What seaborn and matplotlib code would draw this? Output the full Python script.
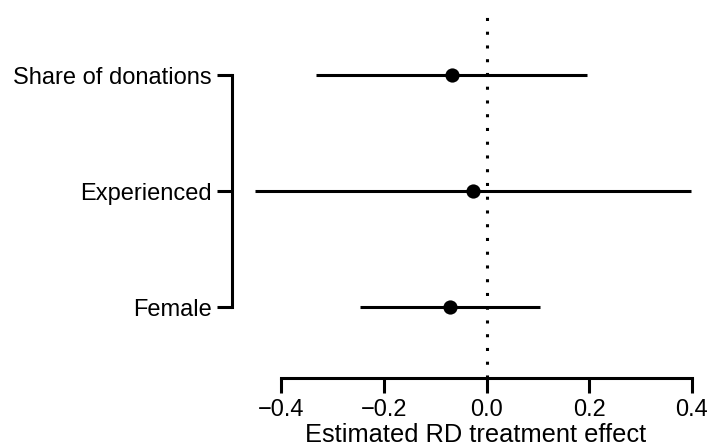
import numpy as np
import matplotlib
matplotlib.use("Agg")
import matplotlib.pyplot as plt
import seaborn as sns

# --- data ---
labels = ["Female", "Experienced", "Share of donations"]
estimate = [-0.071, -0.027, -0.068]
ci_low = [-0.246, -0.452, -0.332]
ci_high = [0.104, 0.398, 0.195]
x_ticks = [-0.4, -0.2, 0.0, 0.2, 0.4]
x_ticklabels = ["\u22120.4", "\u22120.2", "0.0", "0.2", "0.4"]

sns.set_style("ticks")
plt.rcParams['font.family'] = ['Liberation Sans', 'DejaVu Sans']
plt.rcParams['text.color'] = 'black'
plt.rcParams['axes.labelcolor'] = 'black'
plt.rcParams['xtick.color'] = 'black'
plt.rcParams['ytick.color'] = 'black'

fig = plt.figure(figsize=(7.1, 4.48), dpi=100)
ax = fig.add_axes([232 / 710, 70 / 448, (700 - 232) / 710, (440 - 70) / 448])

ypos = np.arange(1, len(labels) + 1)

ax.axvline(0, color="black", linestyle=(0, (1, 3.5)), linewidth=2.2, zorder=1)
ax.hlines(ypos, ci_low, ci_high, color="black", linewidth=2.2, zorder=2)
sns.scatterplot(x=estimate, y=ypos, color="black", s=105, edgecolor="black",
                linewidth=0, zorder=3, ax=ax)

ax.set_xlim(-0.496, 0.416)
ax.set_ylim(0.39, 3.58)

ax.set_yticks(ypos)
ax.set_yticklabels(labels, fontsize=17)
ax.set_xticks(x_ticks)
ax.set_xticklabels(x_ticklabels, fontsize=17)
ax.set_xlabel("Estimated RD treatment effect", fontsize=18.3, labelpad=1)
ax.xaxis.set_label_coords(0.52, -0.155)
ax.xaxis.label.set_verticalalignment("center")

sns.despine(ax=ax)
ax.spines["left"].set_bounds(1, 3)
ax.spines["bottom"].set_bounds(-0.4, 0.4)
for side in ["left", "bottom"]:
    ax.spines[side].set_linewidth(2.2)
    ax.spines[side].set_color("black")
ax.tick_params(axis="both", length=10.8, width=2.2, color="black", pad=4)

fig.savefig("out.png", dpi=100)
